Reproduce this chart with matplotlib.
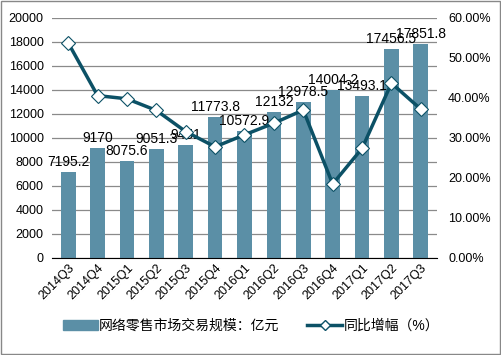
import numpy as np
import matplotlib
matplotlib.use('Agg')
import matplotlib.pyplot as plt
from matplotlib.patches import Rectangle

plt.rcParams['font.family'] = ['Liberation Sans', 'Noto Sans CJK SC', 'DejaVu Sans']

quarters = ["2014Q3", "2014Q4", "2015Q1", "2015Q2", "2015Q3", "2015Q4", "2016Q1",
            "2016Q2", "2016Q3", "2016Q4", "2017Q1", "2017Q2", "2017Q3"]
scale = [7195.2, 9170, 8075.6, 9051.3, 9451, 11773.8, 10572.9,
         12132, 12978.5, 14004.2, 13493.1, 17456.5, 17851.8]
growth = [53.8, 40.6, 39.8, 36.9, 31.6, 27.8, 30.8,
          33.7, 37.0, 18.5, 27.4, 43.7, 37.2]
left_ticks = list(range(0, 20001, 2000))
right_ticks = [0, 10, 20, 30, 40, 50, 60]

bar_color = '#5b8fa6'
line_color = '#0c5166'

fig = plt.figure(figsize=(5.02, 3.55), dpi=100)
fig.patches.append(Rectangle((0.002, 0.003), 0.994, 0.994, transform=fig.transFigure,
                             fill=False, edgecolor='#888888', linewidth=1))
ax = fig.add_axes([52 / 502, (355 - 258) / 355, (437 - 52) / 502, 240 / 355])
x = np.arange(len(quarters))
ax.bar(x, scale, width=0.5, color=bar_color, zorder=2)
ax.set_ylim(0, 20000)
ax.set_xlim(-0.55, len(quarters) - 0.45)
ax.set_yticks(left_ticks)
ax.yaxis.grid(True, color='#8a8a8a', linewidth=0.9, zorder=0)
ax.set_axisbelow(True)
for s in ['top', 'right', 'left']:
    ax.spines[s].set_visible(False)
ax.spines['bottom'].set_color('black')
ax.tick_params(axis='y', length=0, labelsize=9, pad=6)
ax.tick_params(axis='x', length=0, labelsize=9, pad=3)
ax.set_xticks(x)
ax.set_xticklabels(quarters, rotation=45, ha='right', rotation_mode='anchor')

for xi, v in zip(x, scale):
    ax.text(xi, v + 250, f"{v:g}", ha='center', va='bottom', fontsize=10, zorder=5)

ax2 = ax.twinx()
ax2.plot(x, growth, color=line_color, linewidth=2.5, marker='D', markersize=7,
         markerfacecolor='white', markeredgecolor=line_color, markeredgewidth=0.8, zorder=4)
ax2.set_ylim(0, 60)
ax2.set_yticks(right_ticks)
ax2.set_yticklabels([f"{t:.2f}%" for t in right_ticks])
ax2.tick_params(axis='y', length=0, labelsize=9, pad=8)
for s in ['top', 'right', 'left', 'bottom']:
    ax2.spines[s].set_visible(False)

h1 = Rectangle((0, 0), 1, 1, color=bar_color)
h2, = ax2.plot([], [], color=line_color, linewidth=2.5, marker='D', markersize=5.5,
               markerfacecolor='white', markeredgecolor=line_color)
fig.legend([h1, h2], ["网络零售市场交易规模：亿元", "同比增幅（%）"], loc='center',
           bbox_to_anchor=(0.5, (355 - 326) / 355), ncol=2, frameon=False, fontsize=10,
           handlelength=2.5, columnspacing=2.0, handletextpad=0.1)

fig.savefig("out.png", dpi=100)
